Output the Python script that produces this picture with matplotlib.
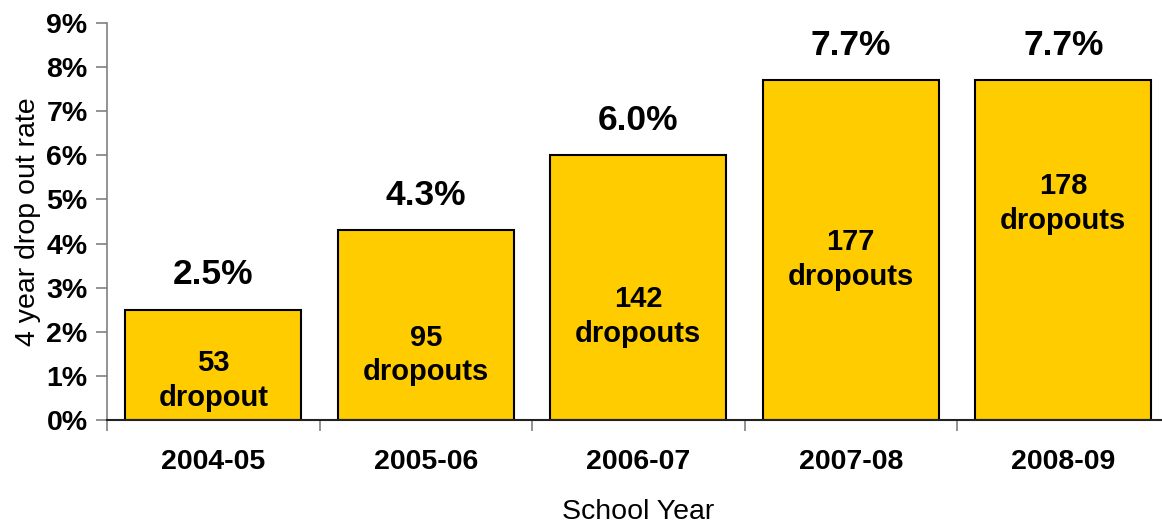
import numpy as np
import matplotlib.pyplot as plt

plt.rcParams['font.family'] = ['Liberation Sans', 'DejaVu Sans']

# datos
school_years = ['2004-05', '2005-06', '2006-07', '2007-08', '2008-09']
dropout_rate = [2.5, 4.3, 6.0, 7.7, 7.7]
dropout_count = [53, 95, 142, 177, 178]
count_words = ['dropout', 'dropouts', 'dropouts', 'dropouts', 'dropouts']

# posicion vertical (en %) de los textos dentro de las barras
inner_label_y = [0.9, 1.47, 2.35, 3.64, 4.91]

fig = plt.figure(figsize=(11.62, 5.25), dpi=100)
ax = fig.add_axes([107 / 1162, 105 / 525, 1062.5 / 1162, 397 / 525])

x = np.arange(len(school_years))
bars = ax.bar(x, dropout_rate, width=0.83, color='#FFCC00',
              edgecolor='black', linewidth=1.5, zorder=2)

for xi, rate, n, word, yl in zip(x, dropout_rate, dropout_count, count_words, inner_label_y):
    ax.annotate(f'{rate:.1f}%', (xi, rate), xytext=(0, 25),
                textcoords='offset points', ha='center', va='center',
                fontsize=25.5, fontweight='bold')
    ax.text(xi, yl, f'{n}\n{word}', ha='center', va='center',
            fontsize=21, fontweight='bold', linespacing=1.3)

ax.set_xlim(-0.5, len(school_years) - 0.5)
ax.set_ylim(0, 9)
ax.set_yticks(np.arange(0, 10))
ax.set_yticklabels([f'{v}%' for v in range(10)], fontsize=20.5, fontweight='bold')
ax.set_xticks(x)
ax.set_xticklabels(school_years, fontsize=20.5, fontweight='bold')
ax.set_xticks(np.arange(-0.5, len(school_years)), minor=True)

ax.tick_params(axis='x', which='major', length=0, pad=21)
ax.tick_params(axis='x', which='minor', length=8, width=1.2, color='#808080')
ax.tick_params(axis='y', length=8, width=1.2, color='#808080', pad=6)

for s in ['top', 'right']:
    ax.spines[s].set_visible(False)
ax.spines['left'].set_color('#808080')
ax.spines['left'].set_linewidth(1.2)
ax.spines['bottom'].set_color('#222222')
ax.spines['bottom'].set_linewidth(1.5)

ax.set_ylabel('4 year drop out rate', fontsize=20.5)
ax.yaxis.set_label_coords(-0.062, 0.5)
ax.set_xlabel('School Year', fontsize=20.5)
ax.xaxis.set_label_coords(0.5, -0.2)

fig.savefig('out.png', dpi=100)
